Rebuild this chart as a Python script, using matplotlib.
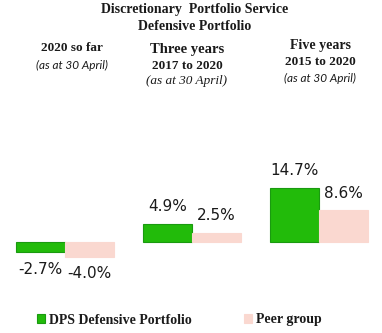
import matplotlib
matplotlib.use("Agg")
import matplotlib.pyplot as plt
import numpy as np

# データ
periods = ["2020 so far", "Three years", "Five years"]
dps_values = [-2.7, 4.9, 14.7]
peer_values = [-4.0, 2.5, 8.6]
series_names = ["DPS Defensive Portfolio", "Peer group"]

GREEN = "#22BB0A"
GREEN_EDGE = "#1A9A10"
PEER = "#FAD8D0"

SERIF = ["Liberation Serif", "DejaVu Serif"]

fig = plt.figure(figsize=(3.82, 3.33), dpi=100)
ax = fig.add_axes([0, 0, 1, 1])
ax.set_xlim(-0.512, 2.496)
ax.set_ylim(-24.8, 65.9)
ax.axis("off")

x = np.arange(len(periods))
w = 0.386
b1 = ax.bar(x - w / 2, dps_values, width=w, color=GREEN, edgecolor=GREEN_EDGE,
            linewidth=0.8, label=series_names[0])
b2 = ax.bar(x + w / 2, peer_values, width=w, color=PEER, edgecolor=PEER,
            linewidth=0.8, label=series_names[1])

# 値ラベル
for bars, vals in ((b1, dps_values), (b2, peer_values)):
    for rect, v in zip(bars, vals):
        cx = rect.get_x() + rect.get_width() / 2
        off = 7 if v >= 0 else -7
        ax.annotate(f"{v:.1f}%", (cx, v), textcoords="offset points",
                    xytext=(0, off), ha="center",
                    va="bottom" if v >= 0 else "top",
                    fontsize=11, color="#1a1a1a", family="DejaVu Sans")

# タイトル
fig.text(0.51, 1 - 10 / 333, "Discretionary  Portfolio Service", ha="center", va="center",
         fontsize=10, fontweight="bold", family=SERIF, color="#1a1a1a")
fig.text(0.51, 1 - 26 / 333, "Defensive Portfolio", ha="center", va="center",
         fontsize=10, fontweight="bold", family=SERIF, color="#1a1a1a")

# 列見出し
def px(xp, yp):
    return xp / 382, 1 - yp / 333

fig.text(*px(72, 48), "2020 so far", ha="center", va="center",
         fontsize=9.5, fontweight="bold", family=SERIF, color="#1a1a1a")
fig.text(*px(72, 65), "(as at 30 April)", ha="center", va="center",
         fontsize=8.5, style="italic", family="Lato", color="#1a1a1a")

fig.text(*px(187, 49), "Three years", ha="center", va="center",
         fontsize=10.5, fontweight="bold", family=SERIF, color="#1a1a1a")
fig.text(*px(187, 66), "2017 to 2020", ha="center", va="center",
         fontsize=9.5, fontweight="bold", family=SERIF, color="#1a1a1a")
fig.text(*px(187, 81), "(as at 30 April)", ha="center", va="center",
         fontsize=9.5, style="italic", family=SERIF, color="#1a1a1a")

fig.text(*px(320, 45), "Five years", ha="center", va="center",
         fontsize=10, fontweight="bold", family=SERIF, color="#1a1a1a")
fig.text(*px(320, 62), "2015 to 2020", ha="center", va="center",
         fontsize=9.5, fontweight="bold", family=SERIF, color="#1a1a1a")
fig.text(*px(320, 78), "(as at 30 April)", ha="center", va="center",
         fontsize=8.5, style="italic", family="Lato", color="#1a1a1a")

# 凡例
leg = fig.legend(handles=[b1, b2], loc="center left", bbox_to_anchor=px(30, 320),
                 ncol=2, frameon=False, handlelength=0.6, handleheight=0.6,
                 handletextpad=0.3, columnspacing=3.7, borderpad=0,
                 prop={"family": SERIF, "weight": "bold", "size": 10})
for t in leg.get_texts():
    t.set_color("#1a1a1a")

fig.savefig("out.png", dpi=100, facecolor="white")
